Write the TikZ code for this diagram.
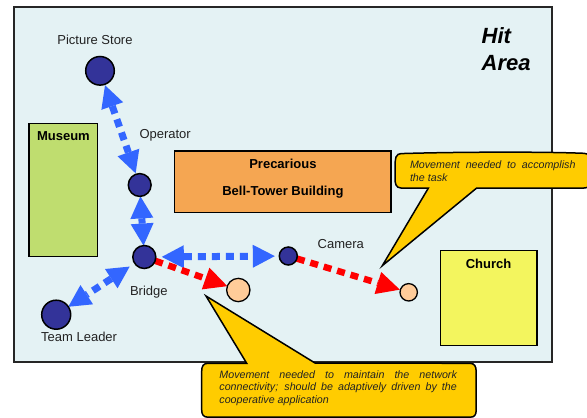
\documentclass[tikz,border=0pt]{standalone}
\usepackage{fontspec}
\setmainfont{Liberation Sans}
\usetikzlibrary{arrows.meta}

\definecolor{areafill}{HTML}{E4F2F4}
\definecolor{museumfill}{HTML}{BFDD6F}
\definecolor{towerfill}{HTML}{F5A652}
\definecolor{churchfill}{HTML}{F3F55E}
\definecolor{devfill}{HTML}{333399}
\definecolor{targetfill}{HTML}{FFCC99}
\definecolor{linkblue}{HTML}{3366FF}
\definecolor{moveRed}{HTML}{FF0000}
\definecolor{calloutfill}{HTML}{FFCC00}
\definecolor{labeltext}{HTML}{222222}

\pgfdeclarelayer{ground}
\pgfdeclarelayer{links}
\pgfsetlayers{ground,links,main}

\tikzset{
  building/.style={draw=black, line width=1.5pt, anchor=north west, inner sep=0pt, outer sep=0pt},
  device/.style={circle, draw=black, line width=1.5pt, fill=devfill, inner sep=0pt, outer sep=0pt},
  target/.style={circle, draw=black, line width=1.3pt, fill=targetfill, inner sep=0pt, outer sep=0pt},
  lbl/.style={inner sep=0pt, text=labeltext, font=\fontsize{13}{15}\selectfont},
  blbl/.style={inner sep=0pt, text=black, font=\fontsize{13}{15}\selectfont\bfseries},
  title/.style={inner sep=0pt, anchor=base west, font=\fontsize{22}{27}\selectfont\bfseries\itshape},
  link/.style={draw=linkblue, line width=7pt, dash pattern=on 8pt off 6pt,
    {Triangle[length=22pt,width=23pt,line width=0pt]}-{Triangle[length=22pt,width=23pt,line width=0pt]}},
  move/.style={draw=moveRed, line width=6.5pt, dash pattern=on 8pt off 6pt,
    -{Triangle[length=23pt,width=23pt,line width=0pt]}},
  callout/.style={draw=black, line width=1.5pt, fill=calloutfill, line join=miter},
  note/.style={inner sep=0pt, anchor=base west, text=labeltext}
}

\begin{document}
\begin{tikzpicture}[x=1pt, y=-1pt]
\useasboundingbox (0,0) rectangle (587,418);

% hit area and buildings
\begin{pgfonlayer}{ground}
\draw[line width=1.8pt, draw=black!85, fill=areafill] (14,7.3) rectangle (552,362);
\node[building, fill=museumfill, minimum width=68.7pt, minimum height=133.4pt] (museum) at (29,123.3) {};
\node[building, fill=towerfill, minimum width=216.3pt, minimum height=61.3pt] (tower) at (174.7,151) {};
\node[building, fill=churchfill, minimum width=96.7pt, minimum height=94.6pt] (church) at (440.3,250.7) {};
\end{pgfonlayer}

\node[title] (hit) at (481.5,43.3) {Hit};
\node[title] (area) at (481.5,70) {Area};
\node[blbl, anchor=base] (museumlbl) at (63.4,140) {Museum};
\node[blbl, anchor=base] (towerlbla) at (282.9,168.3) {Precarious};
\node[blbl, anchor=base] (towerlblb) at (282.9,195) {Bell-Tower Building};
\node[blbl, anchor=base] (churchlbl) at (488.6,268.3) {Church};

% devices and target positions
\node[device, minimum size=28.6pt] (store) at (100,70.8) {};
\node[device, minimum size=22.8pt] (operator) at (139.7,185) {};
\node[device, minimum size=23pt] (bridge) at (144.3,257) {};
\node[device, minimum size=29pt] (leader) at (56.2,314.7) {};
\node[device, minimum size=18pt] (camera) at (288.3,256) {};
\node[target, minimum size=23.3pt] (spotA) at (238.3,290) {};
\node[target, minimum size=17.4pt] (spotB) at (408.7,292.3) {};

% links and movements, kept below the circles
\begin{pgfonlayer}{links}
\draw[link, shorten <=1pt, shorten >=1pt] (store) -- (operator);
\draw[link] (operator) -- (bridge);
\draw[link, shorten <=6pt, shorten >=4.5pt] (bridge) -- (camera);
\draw[link, shorten <=6pt] (bridge) -- (leader);
\draw[move] (bridge) -- (spotA);
\draw[move, shorten >=0.5pt] (camera) -- (spotB);
\end{pgfonlayer}

% labels
\node[lbl, anchor=base] (storelbl) at (95,44.3) {Picture Store};
\node[lbl, anchor=base west] (operatorlbl) at (139.3,138.3) {Operator};
\node[lbl, anchor=base west] (bridgelbl) at (129.8,295) {Bridge};
\node[lbl, anchor=base west] (leaderlbl) at (41,341.7) {Team Leader};
\node[lbl, anchor=base west] (cameralbl) at (317.5,248.3) {Camera};

% callout: task movement
\draw[callout] (401,153.6) .. controls (450,152) and (540,151.5) .. (584,153.3)
  .. controls (591,153.6) and (594,158) .. (594,170) .. controls (594,182) and (591,187.8) .. (584,188)
  -- (476.7,188) -- (382.3,265.7) -- (428.3,188.2) -- (401,188)
  .. controls (396,187.8) and (394.8,184) .. (395,177)
  .. controls (395.2,169) and (394.6,161) .. (396,157)
  .. controls (397,154.5) and (399,153.7) .. (401,153.6) -- cycle;
\node[note] (tasknote) at (409.8,168.3) {\parbox[t]{165.5pt}{\fontsize{10.7}{13.3}\selectfont\itshape
  \hyphenpenalty=10000 \tolerance=9999
  Movement needed to accomplish the task}};

% callout: connectivity movement
\draw[callout] (208,363.3) -- (246.7,363.3) -- (206,296) -- (315,363) -- (470,363.3)
  .. controls (474.5,363.5) and (476.2,366) .. (476.2,372) -- (476.2,410)
  .. controls (476.2,415) and (474.5,417.2) .. (470,417.2) -- (208,417.2)
  .. controls (203.5,417.2) and (201.7,414.5) .. (201.7,410) -- (201.7,371)
  .. controls (201.7,366) and (203.5,363.3) .. (208,363.3) -- cycle;
\node[note] (linknote) at (219.2,378.3) {\parbox[t]{237.5pt}{\fontsize{10.7}{12.5}\selectfont\itshape
  \hyphenpenalty=10000 \tolerance=9999
  Movement needed to maintain the network connectivity; should be adaptively driven by the cooperative application}};
\end{tikzpicture}
\end{document}
